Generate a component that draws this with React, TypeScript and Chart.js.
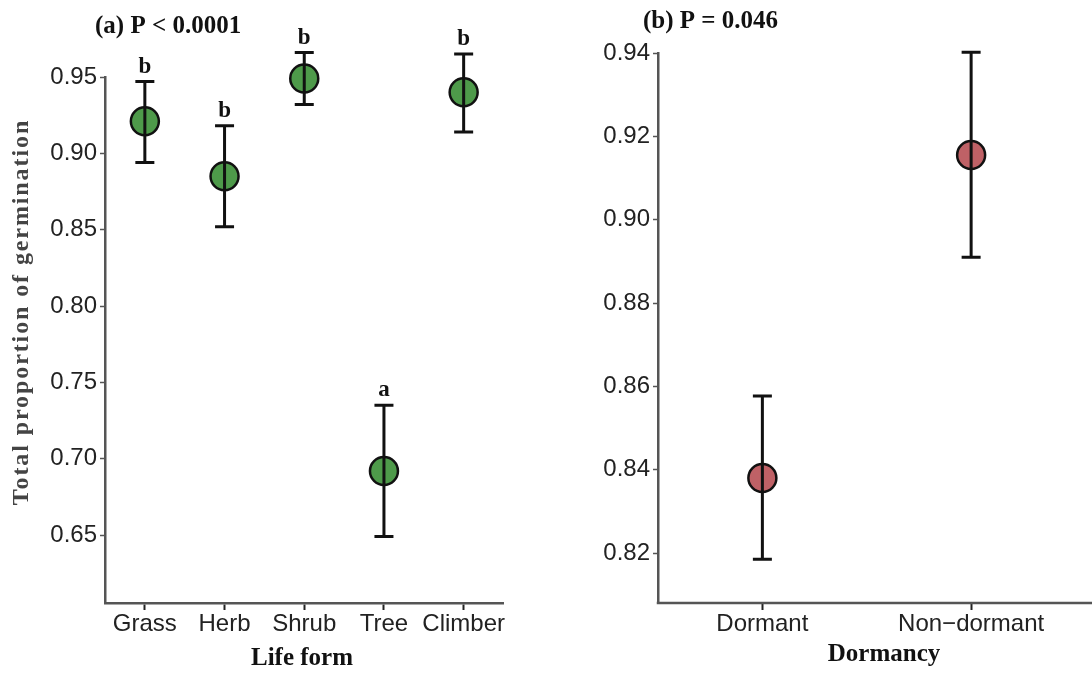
import React, { useEffect, useRef } from "react";
import { Chart, registerables } from "chart.js";

Chart.register(...registerables);

// Panel (a): life form
const lifeForms = ["Grass", "Herb", "Shrub", "Tree", "Climber"];
const lifeMeans = [0.921, 0.885, 0.949, 0.692, 0.940];
const lifeLower = [0.894, 0.852, 0.932, 0.649, 0.914];
const lifeUpper = [0.947, 0.918, 0.966, 0.735, 0.965];
const lifeLetters = ["b", "b", "b", "a", "b"];
const lifeTicks = [0.65, 0.7, 0.75, 0.8, 0.85, 0.9, 0.95];

// Panel (b): dormancy
const dormClasses = ["Dormant", "Non\u2212dormant"];
const dormMeans = [0.838, 0.9155];
const dormLower = [0.8185, 0.891];
const dormUpper = [0.8577, 0.9402];
const dormTicks = [0.82, 0.84, 0.86, 0.88, 0.9, 0.92, 0.94];

const TICK_FONT = { family: "'Liberation Sans', Arial, sans-serif", size: 24 };
const AXIS_COLOR = "#555";
const SERIF = "'Liberation Serif', 'Times New Roman', serif";

function makeErrorBarPlugin(lower: number[], upper: number[], letters: string[] | null) {
  return {
    id: "errbars",
    afterDatasetsDraw(chart: any) {
      const ctx = chart.ctx;
      const xs = chart.scales.x;
      const ys = chart.scales.y;
      ctx.save();
      ctx.strokeStyle = "#111";
      ctx.lineWidth = 3;
      ctx.lineCap = "butt";
      lower.forEach((lo, i) => {
        const x = xs.getPixelForValue(i);
        const yl = ys.getPixelForValue(lo);
        const yu = ys.getPixelForValue(upper[i]);
        ctx.beginPath();
        ctx.moveTo(x, yl);
        ctx.lineTo(x, yu);
        ctx.moveTo(x - 9.5, yl);
        ctx.lineTo(x + 9.5, yl);
        ctx.moveTo(x - 9.5, yu);
        ctx.lineTo(x + 9.5, yu);
        ctx.stroke();
        if (letters) {
          ctx.fillStyle = "#111";
          ctx.font = "bold 23px " + SERIF;
          ctx.textAlign = "center";
          ctx.textBaseline = "alphabetic";
          ctx.fillText(letters[i], x, yu - 9);
        }
      });
      ctx.restore();
    },
  };
}

function makeTextPlugin(
  title: string, tx: number, ty: number, xTitle: string, xtx: number, xty: number,
  yTitle: string | null, extendAxis: boolean
) {
  return {
    id: "texts",
    afterDraw(chart: any) {
      const ctx = chart.ctx;
      ctx.save();
      if (extendAxis) {
        const a = chart.chartArea;
        ctx.strokeStyle = AXIS_COLOR;
        ctx.lineWidth = 2.5;
        ctx.beginPath();
        ctx.moveTo(a.left - 1.25, a.bottom);
        ctx.lineTo(chart.width, a.bottom);
        ctx.stroke();
      }
      ctx.fillStyle = "#111";
      ctx.textBaseline = "middle";
      ctx.textAlign = "left";
      ctx.font = "bold 25px " + SERIF;
      ctx.fillText(title, tx, ty);
      ctx.textAlign = "center";
      ctx.font = "bold 25px " + SERIF;
      ctx.fillText(xTitle, xtx, xty);
      if (yTitle) {
        ctx.translate(22, 312);
        ctx.rotate(-Math.PI / 2);
        ctx.fillStyle = "#444";
        try { (ctx as any).letterSpacing = "1.9px"; } catch (e) {}
        ctx.font = "bold 24px " + SERIF;
        ctx.fillText(yTitle, 0, 0);
      }
      ctx.restore();
    },
  };
}

function panelConfig(
  labels: string[], means: number[], ticks: number[], yMin: number, yMax: number,
  color: string, yWidth: number, padTop: number, padRight: number, xBorder: boolean, plugins: any[]
) {
  return {
    type: "scatter" as const,
    data: {
      labels,
      datasets: [
        {
          data: means.map((m, i) => ({ x: labels[i], y: m })),
          backgroundColor: color,
          borderColor: "#111",
          borderWidth: 2.5,
          pointRadius: 14,
          pointHoverRadius: 14,
          showLine: false,
          clip: false as any,
        },
      ],
    },
    options: {
      animation: false as const,
      responsive: true,
      maintainAspectRatio: false,
      layout: { padding: { top: padTop, right: padRight, left: 0, bottom: 0 } },
      plugins: { legend: { display: false }, tooltip: { enabled: false } },
      scales: {
        x: {
          type: "category" as const,
          labels,
          offset: true,
          afterFit: (s: any) => { s.height = 70; },
          grid: { display: true, drawOnChartArea: false, drawTicks: true, tickLength: 7, tickColor: "#222", tickWidth: 2, offset: false },
          border: { display: xBorder, color: AXIS_COLOR, width: 2.5 },
          ticks: { color: "#222", font: TICK_FONT, padding: 0, maxRotation: 0, autoSkip: false },
        },
        y: {
          type: "linear" as const,
          min: yMin,
          max: yMax,
          afterFit: (s: any) => { s.width = yWidth; },
          afterBuildTicks: (s: any) => { s.ticks = ticks.map((v) => ({ value: v })); },
          grid: { display: true, drawOnChartArea: false, drawTicks: true, tickLength: 5, tickColor: "#555", tickWidth: 1.5 },
          border: { display: true, color: AXIS_COLOR, width: 2.5 },
          ticks: { color: "#222", font: TICK_FONT, padding: 3, callback: (v: any) => Number(v).toFixed(2) },
        },
      },
    },
    plugins,
  };
}

export default function App() {
  const leftRef = useRef<HTMLCanvasElement | null>(null);
  const rightRef = useRef<HTMLCanvasElement | null>(null);

  useEffect(() => {
    document.body.style.margin = "0";
    const left = new Chart(
      leftRef.current as HTMLCanvasElement,
      panelConfig(
        lifeForms, lifeMeans, lifeTicks, 0.6055, 0.95, "#4e9a4a", 105, 77, 10, true,
        [
          makeErrorBarPlugin(lifeLower, lifeUpper, lifeLetters),
          makeTextPlugin("(a) P < 0.0001", 95, 27, "Life form", 302, 659, "Total proportion of germination", false),
        ]
      ) as any
    );
    const right = new Chart(
      rightRef.current as HTMLCanvasElement,
      panelConfig(
        dormClasses, dormMeans, dormTicks, 0.808, 0.94, "#bf6166", 98, 53, 8, false,
        [
          makeErrorBarPlugin(dormLower, dormUpper, null),
          makeTextPlugin("(b) P = 0.046", 83, 22, "Dormancy", 324, 655, null, true),
        ]
      ) as any
    );
    return () => {
      left.destroy();
      right.destroy();
    };
  }, []);

  return (
    <div style={{ position: "relative", width: 1092, height: 673, background: "#fff" }}>
      <div style={{ position: "absolute", left: 0, top: 0, width: 520, height: 673 }}>
        <canvas ref={leftRef} />
      </div>
      <div style={{ position: "absolute", left: 560, top: 0, width: 532, height: 673 }}>
        <canvas ref={rightRef} />
      </div>
    </div>
  );
}
